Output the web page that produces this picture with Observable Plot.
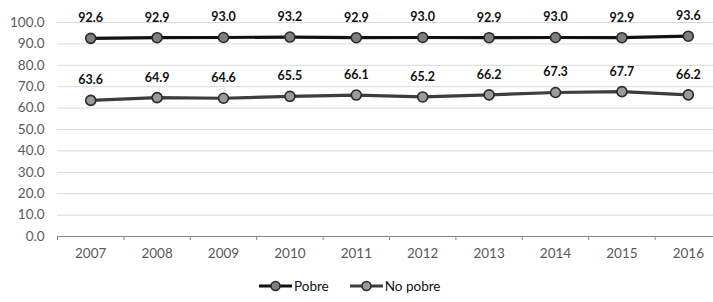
<!DOCTYPE html>
<html><head><meta charset="utf-8">
<script src="https://cdn.jsdelivr.net/npm/d3@7"></script>
<script src="https://cdn.jsdelivr.net/npm/@observablehq/plot@0.6"></script>
<style>
body{margin:0;background:#fff;font-family:Lato,"Open Sans",sans-serif;}
#chart svg{display:block;}
#legend{height:32px;display:flex;align-items:center;justify-content:flex-start;padding-left:258px;font-size:13.5px;color:#111;box-sizing:border-box;}
.item{display:flex;align-items:center;margin-right:20px;}
.item svg{margin-right:1px;}
</style>
</head><body>
<div id="chart"></div>
<div id="legend"></div>
<script>
const years = [2007, 2008, 2009, 2010, 2011, 2012, 2013, 2014, 2015, 2016];
const pobre = [92.6, 92.9, 93.0, 93.2, 92.9, 93.0, 92.9, 93.0, 92.9, 93.6];
const noPobre = [63.6, 64.9, 64.6, 65.5, 66.1, 65.2, 66.2, 67.3, 67.7, 66.2];
const yTicks = [0, 10, 20, 30, 40, 50, 60, 70, 80, 90, 100];
const seriesNames = ["Pobre", "No pobre"];
const lineColors = ["#111111", "#3d3d3d"];
const dotColors = ["#7f7f7f", "#9a9a9a"];

const rows = [];
years.forEach((y, i) => {
  rows.push({year: y, value: pobre[i], serie: seriesNames[0]});
  rows.push({year: y, value: noPobre[i], serie: seriesNames[1]});
});
const boundaries = years.map(y => y - 0.5).concat([years[years.length - 1] + 0.5]);

const chart = Plot.plot({
  width: 713,
  height: 270,
  marginTop: 22,
  marginBottom: 34,
  marginLeft: 57,
  marginRight: 0,
  style: {fontFamily: "Lato, 'Open Sans', sans-serif", fontSize: "13.5px", color: "#595959", background: "#fff"},
  x: {type: "linear", domain: [years[0] - 0.5, years[years.length - 1] + 0.5], range: [57, 721], ticks: years, tickFormat: "d", tickSize: 0, tickPadding: 12, label: null},
  y: {domain: [0, 100], ticks: yTicks, tickFormat: d => d.toFixed(1), tickSize: 0, tickPadding: 13, label: null},
  color: {domain: seriesNames, range: lineColors},
  marks: [
    Plot.ruleY(yTicks.filter(d => d > 0), {stroke: "#d9d9d9", strokeWidth: 1}),
    Plot.ruleY([0], {stroke: "#868686", strokeWidth: 1}),
    Plot.ruleX(boundaries, {x: d => d, y1: 0, y2: 0, insetBottom: -4, stroke: "#868686"}),
    Plot.line(rows, {x: "year", y: "value", z: "serie", stroke: "serie", strokeWidth: 3.2}),
    Plot.dot(rows, {x: "year", y: "value", r: 5, fill: d => dotColors[seriesNames.indexOf(d.serie)], stroke: "#2a2a2a", strokeWidth: 1.6}),
    Plot.text(rows, {x: "year", y: "value", text: d => d.value.toFixed(1), dy: -20, fill: "#111", fontWeight: "bold", fontSize: 12.5})
  ]
});
document.getElementById("chart").appendChild(chart);

const legend = document.getElementById("legend");
seriesNames.forEach((name, i) => {
  const item = document.createElement("div");
  item.className = "item";
  item.innerHTML = `<svg width="35" height="14"><line x1="1" x2="34" y1="7" y2="7" stroke="${lineColors[i]}" stroke-width="3.2"/><circle cx="17.5" cy="7" r="4.5" fill="${dotColors[i]}" stroke="#2a2a2a" stroke-width="1.6"/></svg><span>${name}</span>`;
  legend.appendChild(item);
});
</script>
</body></html>
